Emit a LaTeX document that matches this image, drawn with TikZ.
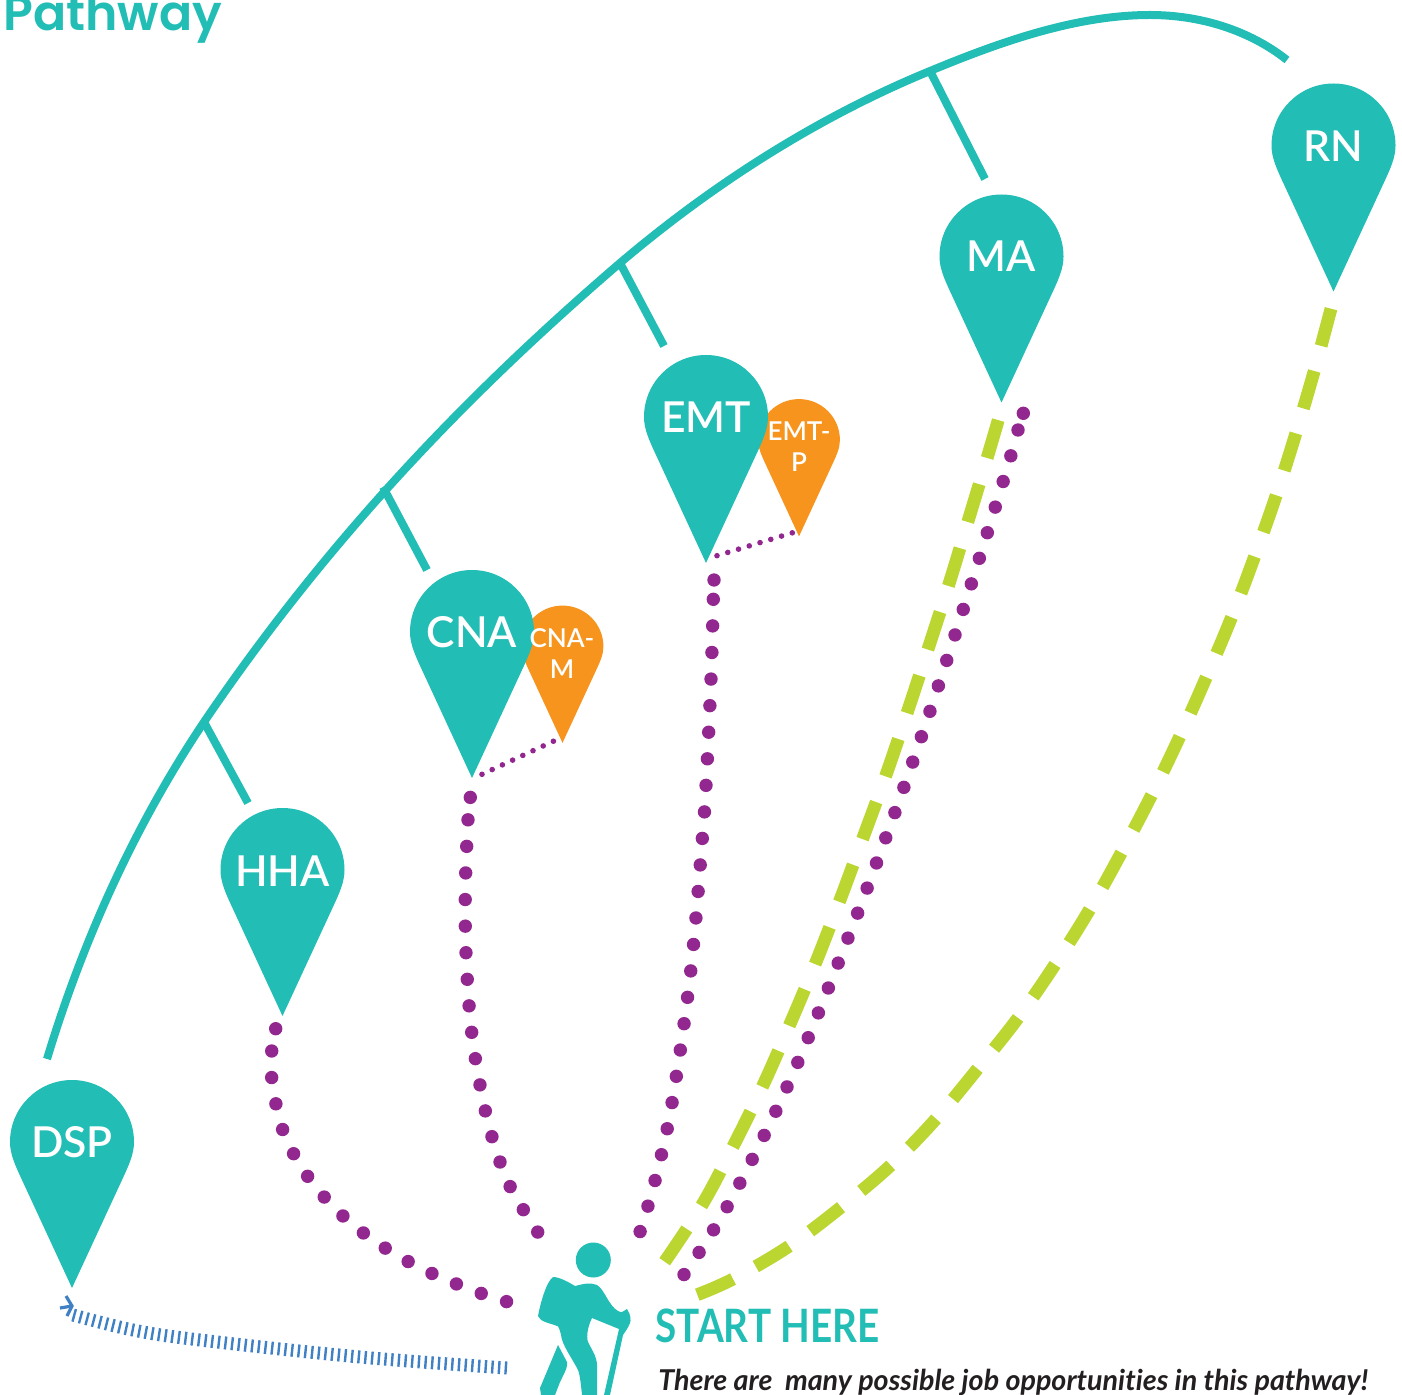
\documentclass[tikz,border=0pt]{standalone}
\usepackage{fontspec}
\setmainfont{Lato}
\newfontfamily\titlefont{Poppins SemiBold}
\newfontfamily\labelfont{Lato Semibold}
\newfontfamily\notefont[Ligatures=NoCommon]{Lato}
\definecolor{pinteal}{HTML}{22BDB5}
\definecolor{pinorange}{HTML}{F7941D}
\definecolor{dotpurple}{HTML}{92278F}
\definecolor{dashgreen}{HTML}{BBD531}
\definecolor{hatchblue}{HTML}{4080C4}
\definecolor{inktext}{HTML}{231F20}
\tikzset{
  x=0.5pt,y=-0.5pt,
  pinshape/.style={fill=#1,draw=none},
  biglabel/.style={text=white,font=\labelfont\fontsize{21.3}{26}\selectfont,inner sep=0pt},
  smalllabel/.style={text=white,font=\labelfont\fontsize{13}{15.75}\selectfont,inner sep=0pt,align=center},
  trail/.style={draw=pinteal,line width=4pt},
  dotline/.style={draw=dotpurple,line width=6.7pt,line cap=round,dash pattern=on 0pt off 13.3pt},
  startdot/.style={fill=dotpurple},
  finedots/.style={draw=dotpurple,line width=2.8pt,line cap=round,dash pattern=on 0pt off 5.62pt},
  greendash/.style={draw=dashgreen,line width=6.4pt},
  hatch/.style={draw=hatchblue,line width=6.5pt,dash pattern=on 1.2pt off 2.15pt},
}
\newcommand{\pin}[5]{% name, cx, cy, scale, colour
  \path[pinshape=#5,shift={(#2,#3)},scale=#4]
    (0,146) -- (-50,38)
    .. controls (-57,23) and (-62,12) .. (-62,0)
    .. controls (-62,-34.2) and (-34.2,-62) .. (0,-62)
    .. controls (34.2,-62) and (62,-34.2) .. (62,0)
    .. controls (62,12) and (57,23) .. (50,38) -- cycle;
  \coordinate (#1) at (#2,#3);
}
\begin{document}
\begin{tikzpicture}
\useasboundingbox (0,0) rectangle (1402,1395);
\clip (0,0) rectangle (1402,1395);

% title
\node[anchor=base west,inner sep=0pt,text=pinteal,font=\titlefont\fontsize{24.5}{28}\selectfont] (title) at (3,31) {Pathway};

% trail
\coordinate (t0) at (47,1059);
\coordinate (t1) at (204,722);
\coordinate (t2) at (383,487);
\coordinate (t3) at (620,263);
\coordinate (t4) at (930,71);
\coordinate (t5) at (1150,15);
\coordinate (t6) at (1287,60);
\draw[trail] (t0) .. controls (83,940) and (135,825) .. (t1)
  .. controls (322,548) and (458,402) .. (t3)
  .. controls (713,184) and (818,117) .. (t4)
  .. controls (1000,42) and (1076,15) .. (t5)
  .. controls (1200,15) and (1249,30) .. (t6);
\coordinate (b1) at (248,803);
\coordinate (b2) at (427,570);
\coordinate (b3) at (664,346);
\coordinate (b4) at (985,179);
\draw[trail] (t1) -- (b1);
\draw[trail] (t2) -- (b2);
\draw[trail] (t3) -- (b3);
\draw[trail] (t4) -- (b4);

% pins
\pin{cnam}{562.5}{646.5}{0.66}{pinorange}
\pin{emtp}{799}{440}{0.66}{pinorange}
\pin{dsp}{72}{1142}{1}{pinteal}
\pin{hha}{282.5}{870}{1}{pinteal}
\pin{cna}{472}{632}{1}{pinteal}
\pin{emt}{706}{417}{1}{pinteal}
\pin{ma}{1001.5}{256.5}{1}{pinteal}
\pin{rn}{1333.5}{145.5}{1}{pinteal}

\node[biglabel] (ldsp) at (72,1142) {DSP};
\node[biglabel] (lhha) at (282.5,871) {HHA};
\node[biglabel] (lcna) at (472,632.5) {CNA};
\node[biglabel] (lemt) at (706,417.5) {EMT};
\node[biglabel] (lma) at (1001.5,256) {MA};
\node[biglabel] (lrn) at (1333.5,146) {RN};
\node[smalllabel] (lcnam) at (562,653.5) {CNA-\\M};
\node[smalllabel] (lemtp) at (799,446.5) {EMT-\\P};

% purple routes
\fill[startdot] (275.7,1028.7) circle[radius=6.7];
\draw[dotline] plot[smooth,tension=0.6] coordinates {(271.7,1051) (271.7,1077.7) (282.7,1129.8) (307.7,1176.4) (343.3,1216.3) (385.7,1248.4) (432.7,1273.8) (482,1293.7) (509,1302.3)};
\fill[startdot] (470.3,797.4) circle[radius=6.7];
\draw[dotline] plot[smooth,tension=0.6] coordinates {(468,819.8) (465.7,872.8) (465.3,926.2) (467.3,979.7) (471.7,1032.4) (480,1085) (492,1136.9) (510.3,1186.9) (539,1234)};
\fill[startdot] (714,580) circle[radius=6.7];
\draw[dotline] plot[smooth,tension=0.6] coordinates {(713.3,599.3) (711,679.3) (706,785.7) (702.3,838.7) (690.7,971.3) (672,1103) (655,1180.7) (639,1235)};
\fill[startdot] (1023.3,413.3) circle[radius=6.7];
\draw[dotline,dash pattern=on 0pt off 13.4pt] plot[smooth,tension=0.6] coordinates {(1018,430) (1003,482) (955,635) (904,787) (848,938) (787,1087) (727,1207) (683,1276)};
\coordinate (fd1a) at (482,774.3);
\coordinate (fd1b) at (555,740.5);
\coordinate (fd2a) at (717,555.7);
\coordinate (fd2b) at (794,532.3);
\draw[finedots] (fd1a) -- (fd1b);
\draw[finedots] (fd2a) -- (fd2b);

% green routes
\draw[greendash,dash pattern=on 19.75pt off 13.67pt] plot[smooth,tension=0.6] coordinates {(664.7,1261.7) (702,1205) (733.3,1146) (762.7,1086) (790,1024) (815.7,962.7) (840,900) (863.3,837) (886,775) (907.7,711) (928.7,647) (949.3,583) (968.7,519) (988,455) (999,417.5)};
\draw[greendash,dash pattern=on 19.5pt off 13pt] plot[smooth,tension=0.6] coordinates {(697.3,1294.7) (733,1279) (788.3,1246.7) (840,1208) (890,1166) (935,1120) (977.2,1069.3) (1017.7,1018.4) (1054.7,965) (1089.5,909.7) (1121.5,852.4) (1151.8,794.6) (1180.2,735.6) (1206.5,676.7) (1231.8,616.7) (1254.7,556.2) (1276.3,495) (1295.8,433.5) (1314.4,370.3) (1331,308.7)};

% blue hatched route
\coordinate (h0) at (507,1368);
\coordinate (h1) at (360,1357);
\coordinate (h2) at (200,1340);
\coordinate (h3) at (133,1330);
\coordinate (h4) at (73,1315);
\draw[hatch] plot[smooth,tension=0.6] coordinates {(h0) (h1) (h2) (h3) (h4)};
\draw[hatchblue,line width=1.6pt] (60,1308) -- (72,1306);
\draw[hatchblue,line width=1.6pt] (66,1296) -- (72,1306) -- (67,1316);

% hiker
\fill[pinteal] (593.3,1260) circle[radius=17.5];
\fill[pinteal] (553,1277) .. controls (560,1277) and (570,1283) .. (575,1286)
  .. controls (583,1284) and (590,1282) .. (597,1285)
  .. controls (605,1290) and (608,1305) .. (618,1311)
  .. controls (622,1313) and (622,1312) .. (627,1309)
  .. controls (631,1315) and (631,1320) .. (630,1323)
  .. controls (628,1328) and (625,1332) .. (623,1335)
  -- (610,1395) -- (604,1395) -- (619,1329)
  -- (592,1318)
  .. controls (588,1326) and (586,1336) .. (588,1342)
  .. controls (593,1352) and (598,1358) .. (597,1370)
  -- (597,1395) -- (582,1395)
  .. controls (581,1385) and (580,1375) .. (578,1370)
  .. controls (572,1358) and (562,1345) .. (561,1335)
  .. controls (560,1330) and (558,1325) .. (557,1326)
  .. controls (550,1323) and (540,1322) .. (538,1316)
  .. controls (540,1305) and (546,1282) .. (553,1277) -- cycle;
\fill[pinteal] (558,1345) -- (567,1362) .. controls (568,1366) and (566,1370) .. (560,1382)
  -- (555,1395) -- (541,1395) -- (540,1388) -- cycle;

% text
\node[anchor=base west,inner sep=0pt,text=pinteal,font=\fontsize{23}{26}\selectfont\bfseries,xscale=0.84] (start) at (655,1342) {START HERE};
\node[anchor=base west,inner sep=0pt,text=inktext,font=\notefont\fontsize{14.35}{17}\selectfont\bfseries\itshape] (note) at (658,1390) {There are\ \ many possible job opportunities in this pathway!};
\end{tikzpicture}
\end{document}
